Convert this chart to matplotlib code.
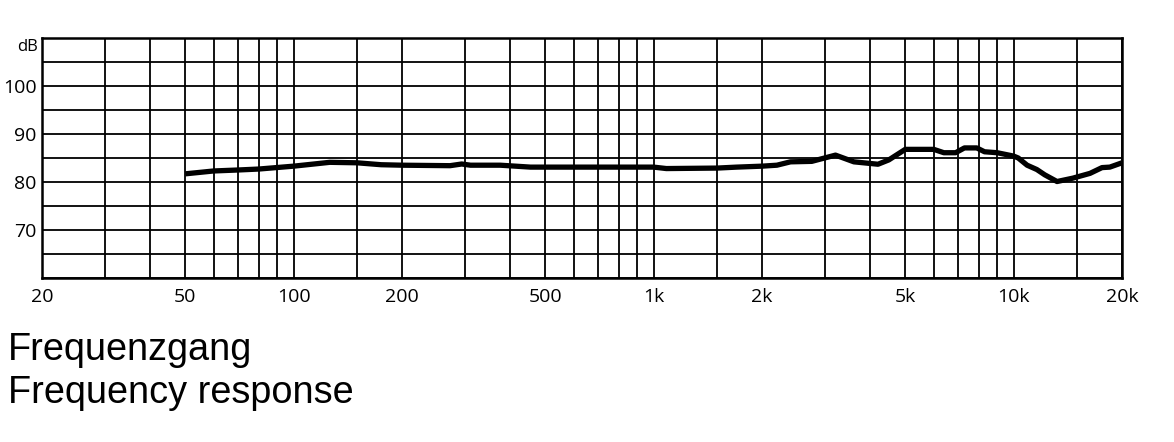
import numpy as np
import matplotlib.pyplot as plt
from matplotlib.ticker import FixedLocator, NullFormatter

# frequency response
freq = [50, 60, 70, 80, 100, 126, 150, 175, 200, 272, 293, 310, 375, 455,
        500, 1000, 1085, 1500, 1700, 2000, 2200, 2400, 2750, 3200, 3600,
        4200, 4500, 5000, 6000, 6400, 6900, 7300, 7900, 8300, 9000, 10000,
        10300, 10900, 11600, 12200, 13200, 14600, 16300, 17600, 18500, 20000]
level = [81.7, 82.3, 82.5, 82.7, 83.3, 84.1, 84.0, 83.6, 83.5, 83.4, 83.75,
         83.5, 83.5, 83.1, 83.1, 83.1, 82.8, 82.9, 83.1, 83.3, 83.5, 84.2,
         84.3, 85.6, 84.2, 83.7, 84.6, 86.8, 86.8, 86.1, 86.1, 87.1, 87.1,
         86.3, 86.1, 85.4, 85.0, 83.5, 82.6, 81.5, 80.1, 80.8, 81.8, 83.0,
         83.1, 84.0]

xtick_vals = [20, 50, 100, 200, 500, 1000, 2000, 5000, 10000, 20000]
xtick_labels = ['20', '50', '100', '200', '500', '1k', '2k', '5k', '10k', '20k']
xgrid = ([20, 30, 40, 50, 60, 70, 80, 90, 100, 150]
         + [200, 300, 400, 500, 600, 700, 800, 900, 1000, 1500]
         + [2000, 3000, 4000, 5000, 6000, 7000, 8000, 9000, 10000, 15000, 20000])
ytick_vals = [70, 80, 90, 100]

fig = plt.figure(figsize=(11.74, 4.42), dpi=100)
ax = fig.add_axes([42 / 1174, 1 - 278 / 442, 1080 / 1174, 240 / 442])

ax.plot(freq, level, color='black', lw=3.8, solid_joinstyle='round',
        solid_capstyle='butt', zorder=3)

ax.set_xscale('log')
ax.set_xlim(20, 20000)
ax.set_ylim(60, 110)

ax.xaxis.set_major_locator(FixedLocator(xtick_vals))
ax.set_xticklabels(xtick_labels)
ax.xaxis.set_minor_locator(FixedLocator(xgrid))
ax.xaxis.set_minor_formatter(NullFormatter())
ax.set_yticks(ytick_vals)
ax.yaxis.set_minor_locator(FixedLocator(np.arange(60, 111, 5)))

ax.grid(which='minor', color='black', lw=1.3)
ax.grid(which='major', color='black', lw=1.3)
ax.tick_params(which='both', length=0, labelsize=14)
ax.tick_params(axis='x', pad=7)
ax.tick_params(axis='y', pad=4)
for lab in ax.get_xticklabels() + ax.get_yticklabels():
    lab.set_family('Open Sans')
for s in ax.spines.values():
    s.set_linewidth(1.8)

ax.text(-0.004, 0.995, 'dB', transform=ax.transAxes, ha='right', va='top',
        fontsize=12, family='Open Sans')

fig.text(8 / 1174, 1 - 360 / 442, 'Frequenzgang', fontsize=27.3,
         family='Liberation Sans', va='baseline')
fig.text(8 / 1174, 1 - 403 / 442, 'Frequency response', fontsize=27.3,
         family='Liberation Sans', va='baseline')

fig.savefig('out.png', dpi=100)
